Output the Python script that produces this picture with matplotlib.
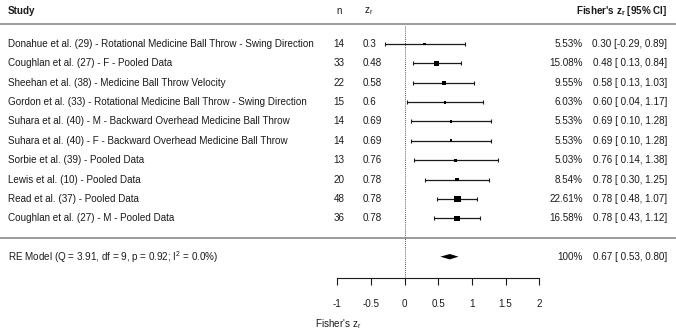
import matplotlib.pyplot as plt
import numpy as np

plt.rcParams['font.family'] = ['Liberation Sans', 'DejaVu Sans']
plt.rcParams['mathtext.fontset'] = 'custom'
plt.rcParams['mathtext.rm'] = 'Liberation Sans'
plt.rcParams['mathtext.it'] = 'Liberation Sans:italic'
plt.rcParams['mathtext.bf'] = 'Liberation Sans:bold'

studies = [
    "Donahue et al. (29) - Rotational Medicine Ball Throw - Swing Direction",
    "Coughlan et al. (27) - F - Pooled Data",
    "Sheehan et al. (38) - Medicine Ball Throw Velocity",
    "Gordon et al. (33) - Rotational Medicine Ball Throw - Swing Direction",
    "Suhara et al. (40) - M - Backward Overhead Medicine Ball Throw",
    "Suhara et al. (40) - F - Backward Overhead Medicine Ball Throw",
    "Sorbie et al. (39) - Pooled Data",
    "Lewis et al. (10) - Pooled Data",
    "Read et al. (37) - Pooled Data",
    "Coughlan et al. (27) - M - Pooled Data",
]
n = [14, 33, 22, 15, 14, 14, 13, 20, 48, 36]
zr = [0.30, 0.48, 0.58, 0.60, 0.69, 0.69, 0.76, 0.78, 0.78, 0.78]
ci_lo = [-0.29, 0.13, 0.13, 0.04, 0.10, 0.10, 0.14, 0.30, 0.48, 0.43]
ci_hi = [0.89, 0.84, 1.03, 1.17, 1.28, 1.28, 1.38, 1.25, 1.07, 1.12]
weights = [5.53, 15.08, 9.55, 6.03, 5.53, 5.53, 5.03, 8.54, 22.61, 16.58]

re_est, re_lo, re_hi = 0.67, 0.53, 0.80
re_label = r"RE Model (Q = 3.91, df = 9, p = 0.92; I$^\mathregular{2}$ = 0.0%)"
xticks = [-1, -0.5, 0, 0.5, 1, 1.5, 2]

txt = '#1a1a1a'
fs = 7.1

W, H = 676, 331
fig = plt.figure(figsize=(W / 100, H / 100), dpi=100)
axis_px = 277.7
ax = fig.add_axes([0, (H - axis_px) / H, 1, axis_px / H])

# x: -1 -> 337.3px, 2 -> 539.3px
ppu = (539.3 - 337.3) / 3
x0 = -1 - 337.3 / ppu
x1 = 2 + (W - 539.3) / ppu
ax.set_xlim(x0, x1)
step = 19.37
ax.set_ylim((axis_px - 44) / step, -44 / step)

def px2x(p):
    return x0 + p / ppu

def py2y(p):
    return (p - 44) / step

def ci_text(est, lo, hi):
    return f"{est:.2f} [{lo:5.2f}, {hi:.2f}]"

rows = np.arange(len(studies))
zr_a = np.array(zr)

# CIs and squares
ax.errorbar(zr_a, rows, xerr=[zr_a - np.array(ci_lo), np.array(ci_hi) - zr_a],
            fmt='none', ecolor=txt, elinewidth=0.9, capsize=1.3, capthick=0.8)
w = np.array(weights)
side_px = 1.5 + 0.235 * w
ax.scatter(zr_a, rows, marker='s', s=(side_px * 0.72) ** 2, color='black',
           linewidths=0, zorder=3)

# RE diamond
yre = py2y(256.7)
hh = 2.7 / step
ax.fill([re_lo, re_est, re_hi, re_est], [yre, yre - hh, yre, yre + hh],
        color='black', lw=0)

# reference line
ax.plot([0, 0], [py2y(26), ax.get_ylim()[0]], color=txt, lw=0.6,
        ls=(0, (1, 1.5)))

# separators
ax.axhline(py2y(24), color='#808080', lw=1.1)
ax.axhline(py2y(238.3), color='#808080', lw=1.1)

# columns
for i in rows:
    ax.text(px2x(8), i, studies[i], ha='left', va='center', fontsize=fs, color=txt)
    ax.text(px2x(339), i, str(n[i]), ha='center', va='center', fontsize=fs, color=txt)
    ax.text(px2x(363), i, f"{zr[i]:g}", ha='left', va='center', fontsize=fs, color=txt)
    ax.text(px2x(583), i, f"{weights[i]:.2f}%", ha='right', va='center', fontsize=fs, color=txt)
    ax.text(px2x(667), i, ci_text(zr[i], ci_lo[i], ci_hi[i]),
            ha='right', va='center', fontsize=fs, color=txt)

ax.text(px2x(8), yre, re_label, ha='left', va='center', fontsize=fs, color=txt)
ax.text(px2x(583), yre, "100%", ha='right', va='center', fontsize=fs, color=txt)
ax.text(px2x(667), yre, ci_text(re_est, re_lo, re_hi),
        ha='right', va='center', fontsize=fs, color=txt)

# headers
yh = py2y(11)
ax.text(px2x(8), yh, "Study", ha='left', va='center', fontsize=fs, color=txt,
        fontweight='bold')
ax.text(px2x(339), yh, "n", ha='center', va='center', fontsize=fs, color=txt)
ax.text(px2x(364), yh, r"$\mathregular{z_r}$", ha='left', va='center', fontsize=fs,
        color=txt)
ax.text(px2x(667), yh, r"Fisher's $\mathbf{z_r}$ [95% CI]", ha='right', va='center',
        fontsize=fs, color=txt, fontweight='bold')

# x axis
for s in ['top', 'left', 'right']:
    ax.spines[s].set_visible(False)
ax.spines['bottom'].set_bounds(-1, 2)
ax.spines['bottom'].set_color(txt)
ax.spines['bottom'].set_linewidth(0.8)
ax.set_yticks([])
ax.set_xticks(xticks)
ax.set_xticklabels([f"{t:g}" for t in xticks])
ax.tick_params(axis='x', direction='out', length=5.2, width=0.8, color=txt,
               labelsize=fs, labelcolor=txt, pad=10)
ax.set_xlabel(r"Fisher's $\mathregular{z_r}$", fontsize=fs, color=txt, labelpad=6)
ax.patch.set_visible(False)

fig.savefig('out.png', dpi=100, facecolor='white')
